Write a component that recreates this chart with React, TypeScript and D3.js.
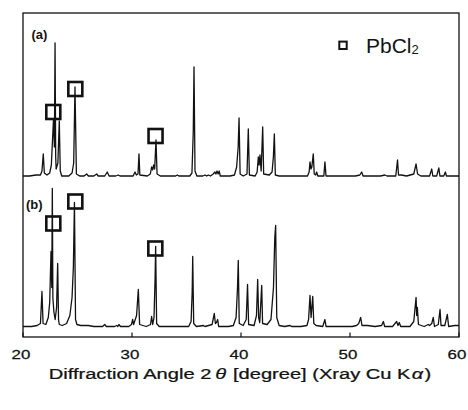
import React from "react";
import * as d3 from "d3";

// Diffraction patterns: [2θ (deg), intensity above background (a.u.)]
const patternA: [number, number][] = [
  [20.0, 1], [20.6, 1], [21.2, 2], [21.6, 2], [21.74, 6], [21.86, 23], [21.96, 4], [22.2, 2],
  [22.45, 4], [22.6, 12], [22.72, 40], [22.8, 58], [22.88, 30], [22.94, 134], [23.0, 20],
  [23.04, 8], [23.2, 14], [23.33, 56], [23.42, 6], [23.55, 1], [24.2, 1], [24.5, 4],
  [24.65, 14], [24.77, 90], [24.9, 3], [25.2, 1], [25.6, 1], [25.84, 3], [26.0, 1], [26.5, 1],
  [26.76, 3], [26.9, 1], [27.5, 1], [27.73, 5], [27.9, 1], [28.5, 1], [28.74, 2], [28.9, 1],
  [29.6, 1], [30.1, 1], [30.28, 5], [30.4, 2], [30.55, 3], [30.64, 23], [30.72, 2], [31.4, 1],
  [31.68, 3], [31.8, 10], [31.9, 7], [31.98, 12], [32.08, 8], [32.2, 37], [32.3, 3], [32.6, 1],
  [33.5, 1], [34.0, 1], [34.16, 2], [34.3, 1], [35.3, 1], [35.5, 4], [35.62, 45], [35.69, 110],
  [35.78, 6], [35.95, 1], [36.5, 1], [36.7, 2], [36.85, 1], [37.0, 2], [37.2, 1], [37.45, 3],
  [37.61, 5], [37.7, 3], [37.8, 6], [37.9, 3], [38.0, 6], [38.1, 1], [39.0, 1], [39.4, 2],
  [39.6, 10], [39.74, 30], [39.82, 59], [39.92, 3], [40.2, 1], [40.55, 3], [40.67, 48],
  [40.77, 2], [41.3, 1], [41.48, 5], [41.59, 20], [41.66, 12], [41.74, 22], [41.85, 6],
  [41.99, 50], [42.08, 3], [42.6, 2], [42.85, 5], [42.97, 20], [43.06, 43], [43.15, 2],
  [43.5, 1], [44.5, 1], [45.5, 1], [46.1, 1], [46.25, 5], [46.33, 15], [46.42, 8], [46.5, 10],
  [46.63, 23], [46.72, 3], [46.85, 2], [46.94, 5], [47.05, 1], [47.6, 1], [47.7, 15], [47.8, 1],
  [48.5, 1], [49.5, 1], [50.5, 1], [50.9, 2], [51.07, 5], [51.2, 1], [52.0, 1], [52.8, 1],
  [53.2, 2], [53.4, 1], [54.2, 1], [54.36, 17], [54.45, 2], [54.7, 2], [55.2, 1], [55.85, 3],
  [56.06, 13], [56.2, 3], [56.5, 1], [57.3, 1], [57.5, 8], [57.6, 1], [57.95, 1], [58.15, 9],
  [58.25, 1], [58.6, 1], [58.75, 5], [58.85, 1], [59.5, 1], [60.0, 1],
];

const patternB: [number, number][] = [
  [20.0, 1], [20.8, 1], [21.3, 2], [21.6, 4], [21.74, 36], [21.84, 4], [22.1, 3], [22.32, 10],
  [22.45, 25], [22.57, 76], [22.64, 40], [22.69, 139], [22.74, 30], [22.84, 15], [22.95, 8],
  [23.08, 20], [23.18, 64], [23.26, 8], [23.33, 3], [23.6, 2], [24.0, 4], [24.3, 12], [24.5, 30],
  [24.62, 60], [24.72, 125], [24.82, 8], [24.95, 3], [25.3, 2], [26.0, 2], [26.5, 1], [27.3, 1],
  [27.5, 3], [27.65, 1], [28.4, 1], [28.6, 2], [28.7, 1], [28.8, 3], [28.95, 1], [29.7, 1],
  [29.95, 3], [30.06, 8], [30.15, 3], [30.42, 12], [30.58, 38], [30.7, 3], [31.3, 1], [31.7, 3],
  [31.8, 11], [31.9, 3], [32.02, 10], [32.12, 50], [32.17, 81], [32.26, 4], [32.5, 1], [33.5, 1],
  [34.5, 1], [35.2, 1], [35.42, 6], [35.52, 35], [35.57, 71], [35.66, 4], [35.9, 1], [36.55, 2],
  [36.7, 1], [37.35, 3], [37.55, 14], [37.65, 4], [37.75, 5], [37.86, 8], [37.95, 1], [38.84, 1],
  [39.3, 2], [39.55, 10], [39.68, 40], [39.75, 67], [39.84, 4], [40.2, 2], [40.48, 8], [40.6, 43],
  [40.7, 3], [41.2, 2], [41.42, 12], [41.53, 48], [41.62, 10], [41.72, 5], [41.9, 42], [41.98, 4],
  [42.4, 3], [42.75, 8], [42.98, 40], [43.1, 90], [43.18, 102], [43.28, 10], [43.5, 2], [44.0, 1],
  [44.5, 2], [44.65, 1], [45.5, 1], [46.05, 2], [46.2, 8], [46.33, 32], [46.43, 10], [46.58, 31],
  [46.68, 4], [46.9, 2], [47.5, 1], [47.7, 8], [47.8, 1], [48.3, 1], [48.78, 1], [49.5, 1],
  [50.2, 1], [50.6, 2], [50.8, 4], [50.98, 10], [51.1, 2], [51.6, 2], [52.3, 1], [52.9, 2],
  [53.06, 6], [53.18, 1], [53.9, 1], [54.28, 6], [54.4, 2], [54.52, 5], [54.65, 1], [55.5, 1],
  [55.85, 6], [56.06, 30], [56.12, 12], [56.18, 20], [56.28, 3], [56.8, 1], [57.18, 3], [57.3, 2],
  [57.5, 4], [57.64, 10], [57.75, 1], [58.1, 3], [58.26, 18], [58.35, 2], [58.7, 2], [58.93, 13],
  [59.05, 1], [59.6, 2], [60.0, 2],
];

// PbCl2 reflections flagged in each pattern: [2θ, marker height (a.u.)]
const pbcl2A: [number, number][] = [[22.78, 65], [24.8, 88], [32.16, 41]];
const pbcl2B: [number, number][] = [[22.78, 104], [24.8, 126], [32.14, 79]];

const xTicks = [20, 30, 40, 50, 60];
const panelLabels = ["(a)", "(b)"];
const legendLabel = "PbCl";
const legendSub = "2";

const W = 468;
const H = 410;
const FONT = "'Liberation Sans', Arial, Helvetica, sans-serif";
const INK = "#121212";

export default function App() {
  const x = d3.scaleLinear().domain([20, 60]).range([23, 459]);
  const yA = d3.scaleLinear().domain([0, 140]).range([177, 37]);
  const yB = d3.scaleLinear().domain([0, 140]).range([327.5, 187.5]);

  const lineA = d3.line<[number, number]>().x((d) => x(d[0])).y((d) => yA(d[1]));
  const lineB = d3.line<[number, number]>().x((d) => x(d[0])).y((d) => yB(d[1]));

  const frame = { left: 23, right: 459, top: 13, bottom: 337 };
  const box = 14;

  const markers = (pts: [number, number][], y: d3.ScaleLinear<number, number>, key: string) =>
    pts.map(([a, h], i) => (
      <rect
        key={key + i}
        x={x(a) - box / 2}
        y={y(h) - box / 2}
        width={box}
        height={box}
        fill="none"
        stroke={INK}
        strokeWidth={2.6}
      />
    ));

  return (
    <svg
      width={W}
      height={H}
      viewBox={`0 0 ${W} ${H}`}
      style={{ position: "absolute", left: 0, top: 0, background: "#fff" }}
      fontFamily={FONT}
    >
      <rect x={0} y={0} width={W} height={H} fill="#fff" />

      {/* traces */}
      <path d={lineA(patternA) ?? ""} fill="none" stroke={INK} strokeWidth={1.3} strokeLinejoin="round" />
      <path d={lineB(patternB) ?? ""} fill="none" stroke={INK} strokeWidth={1.3} strokeLinejoin="round" />

      {markers(pbcl2A, yA, "a")}
      {markers(pbcl2B, yB, "b")}

      {/* frame */}
      <rect
        x={frame.left}
        y={frame.top}
        width={frame.right - frame.left}
        height={frame.bottom - frame.top}
        fill="none"
        stroke={INK}
        strokeWidth={1.3}
      />

      {/* x ticks and labels */}
      {xTicks.map((t) => (
        <g key={t}>
          <line x1={x(t)} x2={x(t)} y1={frame.bottom} y2={frame.bottom - 4.5} stroke={INK} strokeWidth={1.2} />
          <text
            transform={`translate(${x(t) - 2},358.5) scale(1.3,1)`}
            textAnchor="middle"
            fontSize={13}
            fill={INK}
            stroke={INK}
            strokeWidth={0.25}
          >
            {t}
          </text>
        </g>
      ))}

      {/* axis title */}
      <text
        transform="translate(240,378.5) scale(1.34,1)"
        textAnchor="middle"
        fontSize={15}
        fill={INK}
        stroke={INK}
        strokeWidth={0.25}
      >
        Diffraction Angle 2<tspan fontStyle="italic" dx={3}>θ</tspan>
        <tspan dx={5}>[degree] (Xray Cu K</tspan>
        <tspan fontStyle="italic" dx={1}>α</tspan>
        <tspan dx={1}>)</tspan>
      </text>

      {/* panel labels */}
      <text x={31.5} y={39} fontSize={13} fontWeight="bold" fill={INK}>
        {panelLabels[0]}
      </text>
      <text x={26} y={209} fontSize={13} fontWeight="bold" fill={INK}>
        {panelLabels[1]}
      </text>

      {/* legend */}
      <rect x={339.3} y={41.6} width={7.4} height={7.4} fill="none" stroke={INK} strokeWidth={2} />
      <text x={366} y={53.3} fontSize={21} fill={INK}>
        {legendLabel}
        <tspan fontSize={13} dy={0.5}>
          {legendSub}
        </tspan>
      </text>
    </svg>
  );
}
